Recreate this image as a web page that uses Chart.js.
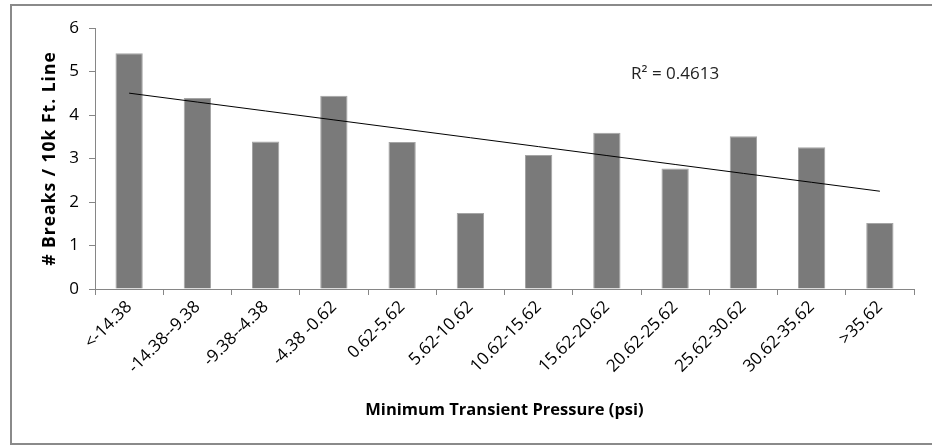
<!DOCTYPE html>
<html lang="en">
  <head>
    <meta charset="UTF-8" />
    <title>Breaks vs Minimum Transient Pressure</title>
    <script src="https://cdn.jsdelivr.net/npm/chart.js@4.4.1/dist/chart.umd.min.js"></script>
    <style>
      html, body { margin: 0; padding: 0; background: #fff; }
      #wrap { position: relative; width: 932px; height: 447px; overflow: hidden; }
      #frame {
        position: absolute; left: 10px; top: 4px; width: 940px; height: 441px;
        border: 2px solid #8a8a8a; box-sizing: border-box;
      }
      canvas { position: absolute; left: 0; top: 0; }
    </style>
  </head>
  <body>
    <div id="wrap">
      <div id="frame"></div>
      <canvas id="chart" width="932" height="447"></canvas>
    </div>
    <script>
      const categories = [
        "<-14.38", "-14.38--9.38", "-9.38--4.38", "-4.38 -0.62", "0.62-5.62", "5.62-10.62",
        "10.62-15.62", "15.62-20.62", "20.62-25.62", "25.62-30.62", "30.62-35.62", ">35.62"
      ];
      const breaks = [5.42, 4.39, 3.39, 4.44, 3.38, 1.75, 3.08, 3.59, 2.77, 3.51, 3.26, 1.52];
      const yTicks = [0, 1, 2, 3, 4, 5, 6];
      const rSquaredText = "R\u00b2 = 0.4613";

      // least squares trend line over the category index
      const n = breaks.length;
      const meanX = (n - 1) / 2;
      const meanY = breaks.reduce((a, b) => a + b, 0) / n;
      let sxy = 0, sxx = 0;
      breaks.forEach((v, i) => { sxy += (i - meanX) * (v - meanY); sxx += (i - meanX) ** 2; });
      const slope = sxy / sxx;
      const trend = breaks.map((_, i) => meanY + slope * (i - meanX));

      const font = "'Open Sans', 'Liberation Sans', sans-serif";
      const axisColor = "#868686";

      const annotations = {
        id: "annotations",
        afterDraw(chart) {
          const { ctx, chartArea, scales } = chart;
          ctx.save();
          ctx.fillStyle = "#000";
          ctx.textAlign = "center";
          ctx.textBaseline = "middle";
          // axis titles
          ctx.font = "bold 16.5px " + font;
          ctx.fillText("Minimum Transient Pressure (psi)", (chartArea.left + chartArea.right) / 2, 410);
          ctx.save();
          ctx.translate(50, (chartArea.top + chartArea.bottom) / 2);
          ctx.rotate(-Math.PI / 2);
          ctx.font = "bold 17.5px " + font;
          ctx.letterSpacing = "1px";
          ctx.fillText("# Breaks / 10k Ft. Line", 0, 0);
          ctx.restore();
          // R² label
          ctx.font = "17px " + font;
          ctx.fillStyle = "#222";
          ctx.fillText(rSquaredText, scales.x.getPixelForValue(8), scales.y.getPixelForValue(4.93));
          ctx.restore();
        }
      };

      new Chart(document.getElementById("chart"), {
        type: "bar",
        data: {
          labels: categories,
          datasets: [
            {
              type: "line",
              data: trend,
              borderColor: "#000",
              borderWidth: 1,
              pointRadius: 0,
              fill: false,
              order: 0
            },
            {
              data: breaks,
              backgroundColor: "#7a7a7a",
              borderColor: "#a5a5a5",
              borderWidth: 1,
              categoryPercentage: 1,
              barPercentage: 0.4,
              order: 1
            }
          ]
        },
        options: {
          responsive: false,
          animation: false,
          layout: { padding: { top: 28, right: 18, left: 0, bottom: 0 } },
          plugins: { legend: { display: false }, tooltip: { enabled: false } },
          scales: {
            x: {
              grid: { drawOnChartArea: false, color: axisColor, tickLength: 6, offset: true },
              border: { color: axisColor },
              ticks: {
                color: "#000", font: { family: font, size: 17 },
                minRotation: 45, maxRotation: 45, padding: 2, autoSkip: false
              },
              afterFit(scale) { scale.height = 447 - 289; }
            },
            y: {
              min: 0, max: 6,
              afterBuildTicks(scale) { scale.ticks = yTicks.map((v) => ({ value: v })); },
              grid: { drawOnChartArea: false, color: axisColor, tickLength: 6 },
              border: { color: axisColor },
              ticks: { color: "#000", font: { family: font, size: 17 }, padding: 10 },
              afterFit(scale) { scale.width = 95; }
            }
          }
        },
        plugins: [annotations]
      });
    </script>
  </body>
</html>
